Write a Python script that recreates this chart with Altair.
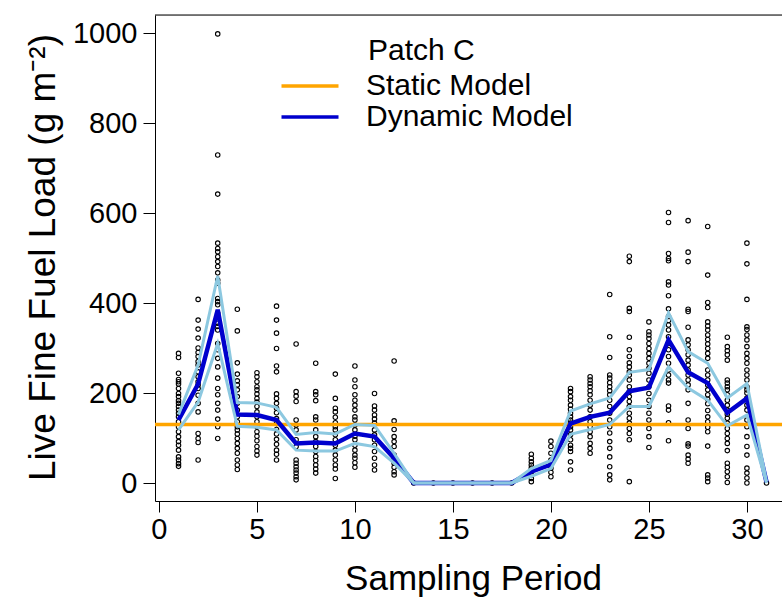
import altair as alt
import pandas as pd

# ---------------- data ----------------
periods = list(range(1, 32))
dyn_mean = [140, 220, 385, 152, 151, 140, 88, 90, 88, 110, 103, 55,
            0, 0, 0, 0, 0, 0,
            25, 41, 132, 147, 156, 204, 212, 318, 246, 222, 156, 188, 2]
dyn_upper = [152, 262, 460, 179, 178, 168, 108, 112, 109, 130, 128, 66,
             0, 0, 0, 0, 0, 0,
             32, 50, 160, 176, 189, 246, 252, 378, 292, 266, 189, 221, 4]
dyn_lower = [118, 180, 310, 126, 124, 118, 73, 71, 71, 88, 81, 44,
             0, 0, 0, 0, 0, 0,
             15, 32, 108, 119, 130, 170, 170, 258, 211, 184, 127, 151, 0]
static_value = 130

obs_p01 = [288, 279, 244, 230, 225, 220, 210, 199, 192, 183, 177, 170, 162, 155, 147, 136, 125, 114, 103, 92, 84, 73, 58, 51, 43, 37]
obs_p02 = [408, 362, 342, 322, 300, 290, 281, 270, 262, 247, 236, 225, 218, 210, 195, 177, 158, 110, 99, 90, 51]
obs_p03 = [998, 729, 642, 533, 521, 514, 503, 492, 481, 467, 451, 444, 410, 403, 396, 377, 370, 355, 348, 340, 310, 296, 277, 258, 233, 210, 196, 177, 162, 142, 125, 99]
obs_p04 = [386, 338, 267, 242, 227, 218, 207, 192, 177, 162, 147, 136, 125, 118, 109, 99, 88, 77, 66, 51, 40, 30]
obs_p05 = [245, 236, 225, 214, 207, 198, 188, 180, 170, 158, 147, 136, 125, 114, 104, 94, 81, 71, 62]
obs_p06 = [393, 362, 333, 299, 260, 247, 198, 188, 177, 166, 156, 143, 132, 119, 109, 97, 86, 73, 64, 51]
obs_p07 = [309, 203, 193, 181, 140, 129, 118, 96, 81, 51, 44, 36, 29, 22, 14, 7]
obs_p08 = [266, 203, 196, 183, 147, 140, 118, 103, 92, 81, 70, 59, 50, 40, 31, 22]
obs_p09 = [242, 188, 166, 158, 146, 134, 125, 118, 107, 96, 84, 73, 62, 51, 40, 31, 10]
obs_p10 = [260, 229, 214, 196, 184, 173, 162, 147, 140, 129, 118, 104, 96, 84, 73, 62, 55, 45, 35]
obs_p11 = [199, 171, 162, 151, 142, 133, 118, 107, 96, 84, 70, 55, 40, 29]
obs_p12 = [271, 138, 119, 103, 92, 81, 62, 53, 44, 35, 25, 18]
obs_p13 = [0]
obs_p14 = [0]
obs_p15 = [0]
obs_p16 = [0]
obs_p17 = [0]
obs_p18 = [0]
obs_p19 = [64, 55, 47, 40, 33, 25, 18, 10, 3]
obs_p20 = [93, 81, 66, 51, 42, 33, 24, 14]
obs_p21 = [210, 203, 192, 184, 173, 164, 155, 147, 140, 133, 125, 118, 107, 96, 84, 77, 70, 47, 29]
obs_p22 = [236, 229, 221, 214, 205, 196, 184, 173, 162, 147, 136, 125, 114, 103, 88, 77, 66]
obs_p23 = [419, 325, 279, 240, 233, 223, 214, 205, 196, 184, 170, 155, 140, 125, 111, 92, 77, 58, 36, 18, 7]
obs_p24 = [504, 492, 388, 381, 324, 296, 281, 267, 258, 247, 240, 229, 214, 203, 192, 181, 170, 155, 144, 133, 121, 110, 96, 3]
obs_p25 = [358, 336, 329, 321, 310, 299, 288, 277, 266, 255, 244, 229, 214, 199, 184, 170, 155, 140, 121, 103, 79]
obs_p26 = [601, 579, 510, 499, 494, 447, 440, 416, 387, 370, 361, 351, 340, 325, 310, 296, 281, 266, 251, 240, 229, 222, 171, 162, 134, 94]
obs_p27 = [583, 513, 492, 386, 381, 346, 318, 307, 296, 285, 273, 262, 251, 240, 229, 218, 207, 177, 140, 121, 87, 82, 62, 53, 44]
obs_p28 = [570, 462, 401, 390, 358, 349, 340, 329, 319, 309, 299, 288, 277, 251, 240, 229, 218, 207, 196, 186, 176, 161, 147, 136, 124, 114, 82, 18, 11, 3]
obs_p29 = [324, 303, 294, 285, 273, 229, 222, 214, 207, 196, 184, 173, 162, 153, 144, 133, 121, 110, 99, 88, 72, 44, 35, 25, 14, 1]
obs_p30 = [533, 487, 408, 347, 341, 329, 318, 303, 288, 277, 266, 251, 240, 229, 214, 207, 200, 189, 173, 162, 140, 125, 103, 81, 62, 33, 22, 11, 0]
obs_p31 = [0]

y_ticks = [0, 200, 400, 600, 800, 1000]
x_ticks = [0, 5, 10, 15, 20, 25, 30]
legend_labels = ["Static Model", "Dynamic Model"]
legend_colors = ["#FFA500", "#0000CD"]
band_color = "#8CC8E0"

# ---------------- tables ----------------
obs_lists = [obs_p01, obs_p02, obs_p03, obs_p04, obs_p05, obs_p06, obs_p07, obs_p08,
             obs_p09, obs_p10, obs_p11, obs_p12, obs_p13, obs_p14, obs_p15, obs_p16,
             obs_p17, obs_p18, obs_p19, obs_p20, obs_p21, obs_p22, obs_p23, obs_p24,
             obs_p25, obs_p26, obs_p27, obs_p28, obs_p29, obs_p30, obs_p31]
obs_rows = []
for p, vals in zip(periods, obs_lists):
    for v in vals:
        obs_rows.append({"period": p, "load": v})
obs_df = pd.DataFrame(obs_rows)

dyn_df = pd.DataFrame({"period": periods, "load": dyn_mean, "model": "Dynamic Model"})
band_df = pd.concat([
    pd.DataFrame({"period": periods, "load": dyn_upper, "band": "upper"}),
    pd.DataFrame({"period": periods, "load": dyn_lower, "band": "lower"}),
])
static_df = pd.DataFrame({"load": [static_value], "model": ["Static Model"]})

FONT = "Liberation Sans"
W, H = 627, 486

x_scale = alt.Scale(domain=[-0.2, 31.79], nice=False, zero=False)
y_scale = alt.Scale(domain=[-40, 1040], nice=False, zero=False)

x_axis = alt.Axis(values=x_ticks, title="Sampling Period", grid=False, format="d",
                  tickSize=11, tickColor="black", domainColor="black",
                  labelFontSize=29, labelFont=FONT, labelColor="black", labelPadding=3,
                  titleFont=FONT, titleFontSize=35, titleFontWeight="normal",
                  titleColor="black", titleX=318, titleY=88, titleBaseline="alphabetic",
                  labelFlush=False)
y_axis = alt.Axis(values=y_ticks, title="Live Fine Fuel Load (g m⁻²)", grid=False, format="d",
                  tickSize=12, tickColor="black", domainColor="black",
                  labelFontSize=29, labelFont=FONT, labelColor="black", labelPadding=6,
                  titleFont=FONT, titleFontSize=37, titleFontWeight="normal",
                  titleColor="black", titleX=-101, titleY=242, titleAngle=270,
                  titleAlign="center", titleBaseline="alphabetic", labelFlush=False)

color_scale = alt.Scale(domain=legend_labels, range=legend_colors)
legend = alt.Legend(orient="none", legendX=140, legendY=56,
                    symbolType="M-2.5,0L2.5,0", symbolSize=520, symbolStrokeWidth=3.5,
                    labelFont=FONT, labelFontSize=30, labelColor="black",
                    labelOffset=41, labelLimit=400, rowPadding=1, title=None)

points = alt.Chart(obs_df).mark_point(shape="circle", filled=False, size=20,
                                      strokeWidth=1.1, color="black", opacity=1).encode(
    x=alt.X("period:Q", scale=x_scale, axis=x_axis),
    y=alt.Y("load:Q", scale=y_scale, axis=y_axis),
)

static_line = alt.Chart(static_df).mark_rule(strokeWidth=3.5).encode(
    y=alt.Y("load:Q", scale=y_scale),
    color=alt.Color("model:N", scale=color_scale, legend=legend),
)

dyn_line = alt.Chart(dyn_df).mark_line(strokeWidth=4.5).encode(
    x=alt.X("period:Q", scale=x_scale),
    y=alt.Y("load:Q", scale=y_scale),
    color=alt.Color("model:N", scale=color_scale, legend=legend),
)

band_lines = alt.Chart(band_df).mark_line(strokeWidth=3, color=band_color).encode(
    x=alt.X("period:Q", scale=x_scale),
    y=alt.Y("load:Q", scale=y_scale),
    detail="band:N",
)

top_border = alt.Chart(static_df).mark_rule(color="black", strokeWidth=1).encode(
    x=alt.value(0), x2=alt.value(W), y=alt.value(0)
)

patch_title = alt.Chart(static_df).mark_text(
    text="Patch C", align="left", baseline="alphabetic", font=FONT,
    fontSize=30, color="black"
).encode(x=alt.value(213), y=alt.value(45))

chart = alt.layer(points, static_line, dyn_line, band_lines, top_border, patch_title).properties(
    width=W, height=H,
    autosize=alt.AutoSizeParams(type="none"),
    padding={"left": 155, "top": 15, "right": 0, "bottom": 98},
).configure_view(stroke=None).configure(background="white")

chart.save("out.html", embed_options={"renderer": "svg", "actions": False})
